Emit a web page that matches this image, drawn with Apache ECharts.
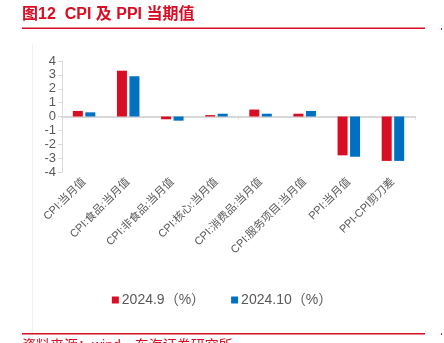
<!DOCTYPE html>
<html>
<head>
<meta charset="utf-8">
<script src="https://cdn.jsdelivr.net/npm/echarts@6/dist/echarts.min.js"></script>
<style>
html,body{margin:0;padding:0;background:#fff;}
#chart{width:444px;height:343px;}
</style>
</head>
<body>
<div id="chart"></div>
<script>
var categories = ['CPI:当月值','CPI:食品:当月值','CPI:非食品:当月值','CPI:核心:当月值','CPI:消费品:当月值','CPI:服务项目:当月值','PPI:当月值','PPI-CPI剪刀差'];
var seriesSep = [0.4, 3.3, -0.2, 0.1, 0.5, 0.2, -2.8, -3.2];
var seriesOct = [0.3, 2.9, -0.3, 0.2, 0.2, 0.4, -2.9, -3.2];
var seriesNames = ['2024.9（%）', '2024.10（%）'];
var yTicks = [-4, 4, 1];
var titleText = '图12  CPI 及 PPI 当期值';
var sourceText = '资料来源：wind，东海证券研究所';

var FONT = '"Liberation Sans", Arial, "Noto Sans CJK SC", sans-serif';
var RED = '#d70e24';
var BLUE = '#0070c0';
var GRAY = '#595959';

var chart = echarts.init(document.getElementById('chart'), null, {renderer: 'canvas'});
chart.setOption({
  backgroundColor: '#fff',
  animation: false,
  textStyle: {fontFamily: FONT},
  graphic: [
    {type: 'text', left: 22, top: 7, style: {text: titleText, fill: RED, font: 'bold 16px ' + FONT}},
    {type: 'rect', shape: {x: 22, y: 27.5, width: 403, height: 1.5}, style: {fill: RED}},
    {type: 'rect', shape: {x: 441, y: 28, width: 1, height: 2}, style: {fill: RED}},
    {type: 'line', shape: {x1: 32.5, y1: 44, x2: 32.5, y2: 343}, style: {stroke: '#f2f2f2', lineWidth: 1}},
    {type: 'rect', shape: {x: 22, y: 333, width: 403, height: 1.5}, style: {fill: RED}},
    {type: 'rect', shape: {x: 441, y: 333, width: 1, height: 2}, style: {fill: RED}},
    {type: 'text', left: 22, top: 339, style: {text: sourceText, fill: RED, font: '14px ' + FONT}}
  ],
  legend: {
    data: seriesNames,
    left: 'center',
    top: 288,
    itemWidth: 7,
    itemHeight: 7,
    itemGap: 26,
    icon: 'rect',
    textStyle: {color: GRAY, fontSize: 14, fontFamily: FONT, padding: [0, 0, 0, -2]}
  },
  grid: {left: 62, right: 29, top: 61, bottom: 171, containLabel: false},
  xAxis: [
    {
      type: 'category',
      data: categories,
      position: 'bottom',
      axisLine: {show: false, onZero: false},
      axisTick: {show: false},
      axisLabel: {rotate: 45, color: GRAY, fontSize: 11, fontFamily: FONT, interval: 0, margin: 8}
    },
    {
      type: 'category',
      data: categories,
      position: 'bottom',
      axisLine: {show: true, onZero: true, lineStyle: {color: '#d9d9d9', width: 2}},
      axisTick: {show: true, length: 3, lineStyle: {color: '#d9d9d9'}},
      axisLabel: {show: false}
    }
  ],
  yAxis: {
    type: 'value',
    min: yTicks[0],
    max: yTicks[1],
    interval: yTicks[2],
    axisLine: {show: true, lineStyle: {color: '#d9d9d9'}},
    axisTick: {show: true, length: 4, lineStyle: {color: '#d9d9d9'}},
    axisLabel: {color: GRAY, fontSize: 13, fontFamily: FONT, margin: 6},
    splitLine: {show: false}
  },
  series: [
    {name: seriesNames[0], type: 'bar', xAxisIndex: 0, data: seriesSep, barWidth: 10, barGap: '25%', itemStyle: {color: RED}},
    {name: seriesNames[1], type: 'bar', xAxisIndex: 0, data: seriesOct, barWidth: 10, barGap: '25%', itemStyle: {color: BLUE}}
  ]
});
</script>
</body>
</html>
